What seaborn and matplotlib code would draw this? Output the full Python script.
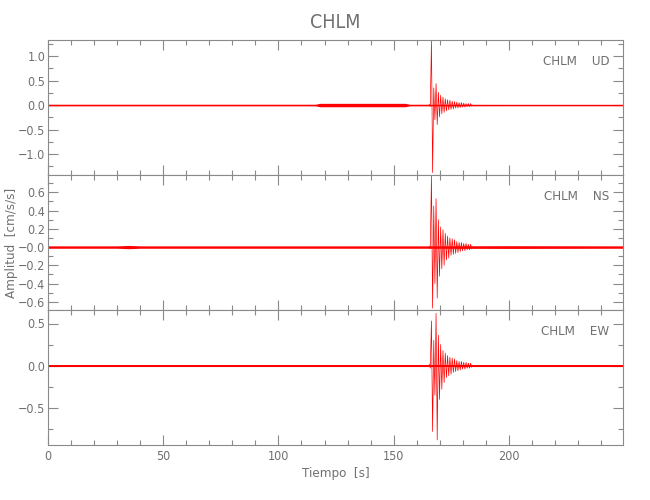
import matplotlib
matplotlib.use("Agg")
import matplotlib.pyplot as plt
import numpy as np
import seaborn as sns
from matplotlib.ticker import MultipleLocator, FixedLocator, FixedFormatter

# Station / component labels
station = "CHLM"
components = ["UD", "NS", "EW"]

# Strong-motion part of each trace, sampled every 0.5 s from 165.4 s
coda_start = 165.4
coda_dt = 0.5
ud_coda = [0.02, -0.03, 1.32, -1.38, 0.35, -0.30, 0.44, -0.40, 0.26, -0.24,
           0.20, -0.18, 0.16, -0.15, 0.13, -0.12, 0.11, -0.10, 0.10, -0.09,
           0.08, -0.08, 0.07, -0.06, 0.06, -0.06, 0.05, -0.05, 0.05, -0.04,
           0.04, -0.04, 0.03, -0.03, 0.03, -0.03, 0.03, -0.02]
ns_coda = [0.01, -0.02, 0.78, -0.67, 0.45, -0.40, 0.53, -0.56, 0.30, -0.32,
           0.22, -0.24, 0.19, -0.20, 0.15, -0.14, 0.12, -0.12, 0.10, -0.09,
           0.09, -0.08, 0.08, -0.07, 0.06, -0.06, 0.05, -0.05, 0.05, -0.04,
           0.04, -0.04, 0.04, -0.03, 0.03, -0.03, 0.03, -0.02]
ew_coda = [0.02, -0.03, 0.53, -0.78, 0.30, -0.35, 0.62, -0.88, 0.36, -0.40,
           0.25, -0.28, 0.18, -0.20, 0.15, -0.14, 0.12, -0.12, 0.10, -0.10,
           0.09, -0.08, 0.08, -0.07, 0.06, -0.06, 0.05, -0.05, 0.05, -0.04,
           0.04, -0.04, 0.04, -0.03, 0.03, -0.03, 0.03, -0.02]

# Background noise envelope (time, half-width) for each trace
ud_noise_t = [0, 116, 118, 155, 157, 165.4, 200, 249.5]
ud_noise_a = [0.016, 0.016, 0.035, 0.035, 0.016, 0.016, 0.014, 0.014]
ns_noise_t = [0, 30, 35, 40, 165.4, 200, 249.5]
ns_noise_a = [0.013, 0.013, 0.018, 0.013, 0.013, 0.015, 0.013]
ew_noise_t = [0, 165.4, 249.5]
ew_noise_a = [0.014, 0.014, 0.014]

# Axis settings per panel
ylims = [(-1.43, 1.33), (-0.69, 0.79), (-0.94, 0.66)]
y_major = [[-1.0, -0.5, 0.0, 0.5, 1.0],
           [-0.6, -0.4, -0.2, 0.0, 0.2, 0.4, 0.6],
           [-0.5, 0.0, 0.5]]
y_labels = [["\u22121.0", "\u22120.5", "0.0", "0.5", "1.0"],
            ["\u22120.6", "\u22120.4", "\u22120.2", "\u22120.0", "0.2", "0.4", "0.6"],
            ["\u22120.5", "0.0", "0.5"]]
y_minor = [0.25, 0.1, 0.25]
x_max = 249.5

traces = [
    (ud_coda, ud_noise_t, ud_noise_a),
    (ns_coda, ns_noise_t, ns_noise_a),
    (ew_coda, ew_noise_t, ew_noise_a),
]

sns.set_style("ticks")
plt.rcParams["font.family"] = ["DejaVu Sans"]
plt.rcParams["font.stretch"] = "condensed"
grey = "#8a8a8a"
txt = "#707070"

fig = plt.figure(figsize=(6.5, 5), dpi=100)
boxes = [(0.0738, 0.65, 0.8846, 0.27),
         (0.0738, 0.38, 0.8846, 0.27),
         (0.0738, 0.11, 0.8846, 0.27)]

axes = []
for i, (coda, nt, na) in enumerate(traces):
    ax = fig.add_axes(boxes[i])
    axes.append(ax)
    nt = np.array(nt)
    na = np.array(na)
    ax.fill_between(nt, -na, na, color="red", linewidth=0)
    ax.plot(nt, np.zeros_like(nt), color="red", linewidth=0.8)
    t = coda_start + coda_dt * np.arange(len(coda))
    sns.lineplot(x=t, y=coda, ax=ax, color="red", linewidth=0.5,
                 estimator=None)
    ax.set_xlim(0, x_max)
    ax.set_ylim(*ylims[i])
    ax.xaxis.set_major_locator(MultipleLocator(50))
    ax.xaxis.set_minor_locator(MultipleLocator(10))
    ax.yaxis.set_major_locator(FixedLocator(y_major[i]))
    ax.yaxis.set_major_formatter(FixedFormatter(y_labels[i]))
    ax.yaxis.set_minor_locator(MultipleLocator(y_minor[i]))
    ax.tick_params(which="both", direction="in", top=True, right=True,
                   colors=grey, labelcolor=txt, labelsize=9, width=0.8)
    ax.tick_params(which="major", length=7.2)
    ax.tick_params(which="minor", length=3.6)
    ax.tick_params(axis="y", pad=2)
    for sp in ax.spines.values():
        sp.set_color(grey)
        sp.set_linewidth(0.8)
    ax.set_xlabel("")
    ax.set_ylabel("")
    if i < 2:
        ax.tick_params(labelbottom=False)
    for lab in ax.get_yticklabels() + ax.get_xticklabels():
        lab.set_fontweight("light")
    ax.text(0.976, 0.844, f"{station}    {components[i]}", transform=ax.transAxes,
            ha="right", va="center", color=txt, fontsize=9.5, fontweight="light")

axes[2].set_xlabel("Tiempo  [s]", color=txt, fontsize=9.5, fontweight="light",
                   labelpad=3)
axes[1].set_ylabel("Amplitud  [cm/s/s]", color=txt, fontsize=9.5,
                   fontweight="light")
axes[1].yaxis.set_label_coords(-0.052, 0.5)
fig.text(0.515, 0.955, station, ha="center", va="center", color=txt,
         fontsize=14, fontweight="light")

plt.savefig("out.png", dpi=100)
plt.close(fig)
